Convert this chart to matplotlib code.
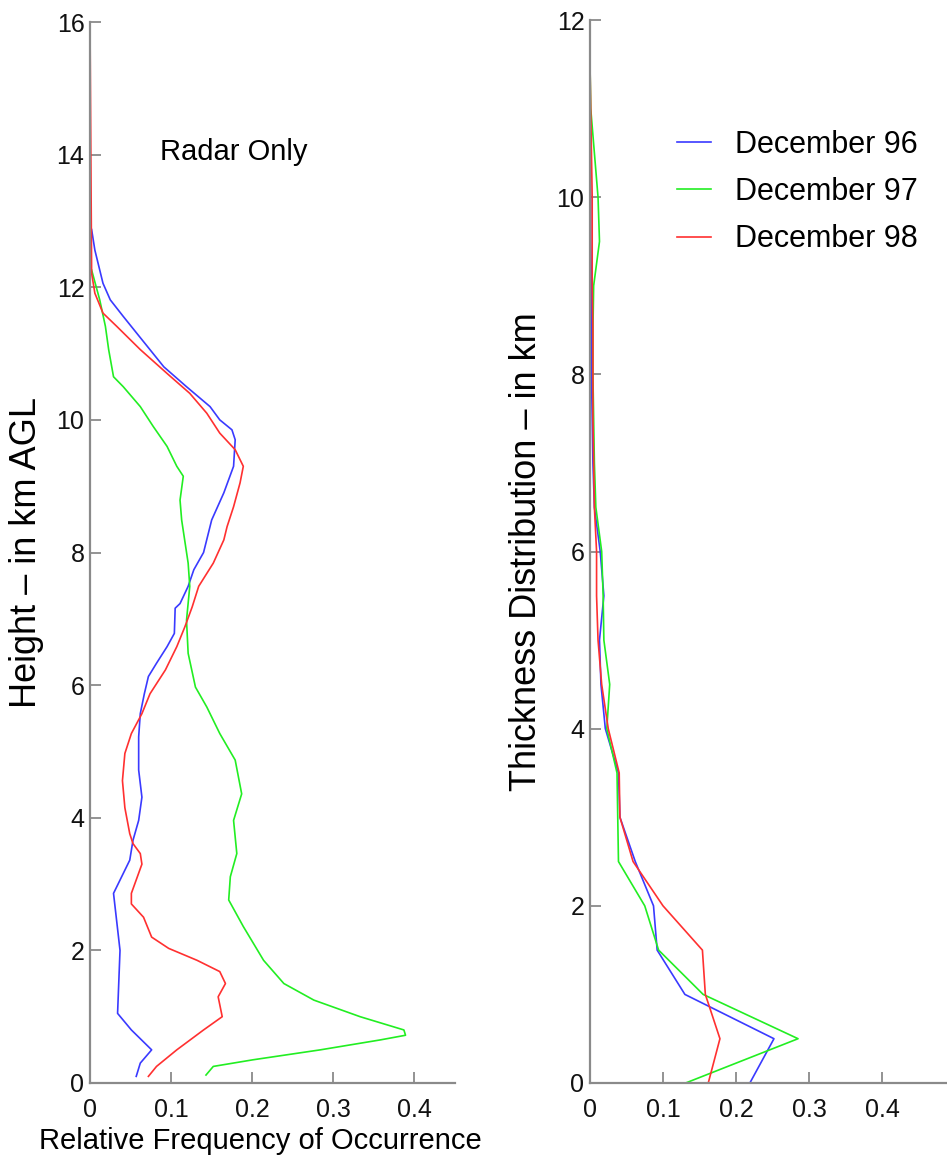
import matplotlib
matplotlib.use('Agg')
import matplotlib.pyplot as plt
from matplotlib.ticker import FuncFormatter

plt.rcParams['font.family'] = ['Liberation Sans', 'DejaVu Sans']

# ── DATA ──────────────────────────────────────────────────────────────────────
LABELS = ['December 96', 'December 97', 'December 98']
COLORS = ['#3a3aff', '#22ee22', '#ff3030']

# Left panel: radar-only height profile (km AGL vs relative frequency)
h96 = [12.87, 12.56, 12.06, 11.81, 11.56, 11.21, 10.8, 10.5, 10.2, 10.0, 9.85, 9.7,
       9.3, 8.9, 8.49, 8.0, 7.74, 7.49, 7.23, 7.16, 6.78, 6.58, 6.33, 6.13, 5.87,
       5.57, 5.22, 4.72, 4.31, 3.96, 3.66, 3.36, 2.86, 2.0, 1.05, 0.8, 0.5, 0.3, 0.1]
f96 = [0.002, 0.006, 0.016, 0.025, 0.041, 0.064, 0.091, 0.119, 0.148, 0.160, 0.175, 0.179,
       0.177, 0.165, 0.150, 0.140, 0.128, 0.121, 0.111, 0.105, 0.104, 0.095, 0.082, 0.072, 0.067,
       0.062, 0.060, 0.060, 0.064, 0.060, 0.053, 0.049, 0.029, 0.037, 0.034, 0.051, 0.076, 0.062, 0.057]

h97 = [12.26, 11.81, 11.41, 11.06, 10.65, 10.5, 10.2, 9.9, 9.6, 9.3, 9.15, 8.79, 8.49,
       7.84, 7.49, 6.98, 6.48, 5.97, 5.67, 5.27, 4.87, 4.36, 3.96, 3.46, 3.11, 2.76,
       2.36, 1.85, 1.5, 1.25, 1.0, 0.8, 0.72, 0.65, 0.5, 0.35, 0.25, 0.12]
f97 = [0.002, 0.012, 0.019, 0.023, 0.029, 0.041, 0.062, 0.078, 0.095, 0.107, 0.115, 0.111, 0.113,
       0.121, 0.123, 0.119, 0.121, 0.130, 0.144, 0.160, 0.179, 0.187, 0.177, 0.181, 0.173, 0.171,
       0.189, 0.214, 0.239, 0.276, 0.333, 0.387, 0.389, 0.358, 0.284, 0.201, 0.152, 0.143]

h98 = [16.0, 12.21, 11.91, 11.61, 11.41, 11.06, 10.7, 10.4, 10.1, 9.8, 9.55, 9.3, 9.05,
       8.69, 8.39, 8.19, 7.84, 7.49, 7.18, 6.88, 6.58, 6.23, 5.87, 5.57, 5.27, 4.97,
       4.56, 4.15, 3.76, 3.61, 3.46, 3.3, 2.86, 2.7, 2.5, 2.2, 2.03, 1.85, 1.68, 1.5,
       1.3, 1.0, 0.8, 0.5, 0.25, 0.1]
f98 = [0.0, 0.002, 0.006, 0.016, 0.033, 0.062, 0.095, 0.123, 0.144, 0.160, 0.179, 0.189, 0.185,
       0.177, 0.169, 0.165, 0.152, 0.134, 0.126, 0.117, 0.107, 0.093, 0.074, 0.064, 0.051, 0.043,
       0.040, 0.043, 0.049, 0.053, 0.062, 0.064, 0.051, 0.051, 0.066, 0.076, 0.097, 0.132, 0.160, 0.167,
       0.158, 0.163, 0.140, 0.107, 0.082, 0.072]

# Right panel: thickness distribution, 0.5 km bins
thick = [0.0, 0.5, 1.0, 1.5, 2.0, 2.5, 3.0, 3.5, 4.0, 4.5, 5.0, 5.5, 6.0, 6.5,
         7.0, 7.5, 8.0, 8.5, 9.0, 9.5, 10.0, 10.5, 11.0, 11.5, 12.0]
t96 = [0.219, 0.252, 0.130, 0.092, 0.087, 0.062, 0.041, 0.039, 0.021, 0.015, 0.013, 0.019,
       0.014, 0.006, 0.004, 0.003, 0.002, 0.002, 0.002, 0.001, 0.001, 0.0]
t97 = [0.131, 0.285, 0.155, 0.094, 0.075, 0.039, 0.038, 0.037, 0.023, 0.027, 0.019, 0.018,
       0.016, 0.008, 0.006, 0.005, 0.004, 0.004, 0.005, 0.013, 0.011, 0.006, 0.001, 0.0]
t98 = [0.162, 0.178, 0.158, 0.154, 0.100, 0.059, 0.041, 0.040, 0.025, 0.016, 0.011, 0.009,
       0.009, 0.006, 0.005, 0.004, 0.004, 0.004, 0.003, 0.003, 0.003, 0.002, 0.001, 0.0, 0.0]

XTICKS = [0, 0.1, 0.2, 0.3, 0.4]
GRAY = '#8a8a8a'


def style_axes(ax):
    for side in ['top', 'right']:
        ax.spines[side].set_visible(False)
    for side in ['left', 'bottom']:
        ax.spines[side].set_color(GRAY)
        ax.spines[side].set_linewidth(1.6)
    ax.tick_params(direction='in', length=8, width=1.3, color=GRAY,
                   labelsize=18, labelcolor='#111111')
    ax.tick_params(axis='x', pad=11)
    ax.tick_params(axis='y', pad=4)
    ax.set_xticks(XTICKS)
    ax.xaxis.set_major_formatter(FuncFormatter(lambda v, p: '0' if v == 0 else f'{v:.1f}'))


fig = plt.figure(figsize=(9.47, 11.62), dpi=100)

# ── LEFT PANEL ────────────────────────────────────────────────────────────────
ax1 = fig.add_axes([90 / 947, 1 - 1083 / 1162, 365 / 947, 1061 / 1162])
ax1.plot(f96, h96, color=COLORS[0], lw=1.2)
ax1.plot(f97, h97, color=COLORS[1], lw=1.2)
ax1.plot(f98, h98, color=COLORS[2], lw=1.2)
ax1.set_xlim(0, 0.45)
ax1.set_ylim(0, 16)
ax1.set_yticks(range(0, 17, 2))
style_axes(ax1)
ax1.set_ylabel('Height \u2013 in km AGL', fontsize=26)
ax1.yaxis.set_label_coords(-0.125, 0.5)
ax1.set_xlabel('Relative Frequency of Occurrence', fontsize=21)
ax1.xaxis.set_label_coords(0.468, -0.041)
ax1.text(0.086, 14.04, 'Radar Only', fontsize=21, va='center', ha='left')

# ── RIGHT PANEL ───────────────────────────────────────────────────────────────
ax2 = fig.add_axes([590 / 947, 1 - 1083 / 1162, 365 / 947, 1063 / 1162])
ax2.plot(t96, thick[:len(t96)], color=COLORS[0], lw=1.2, label=LABELS[0])
ax2.plot(t97, thick[:len(t97)], color=COLORS[1], lw=1.2, label=LABELS[1])
ax2.plot(t98, thick[:len(t98)], color=COLORS[2], lw=1.2, label=LABELS[2])
ax2.set_xlim(0, 0.5)
ax2.set_ylim(0, 12)
ax2.set_yticks(range(0, 13, 2))
style_axes(ax2)
ax2.set_ylabel('Thickness Distribution \u2013 in km', fontsize=26)
ax2.yaxis.set_label_coords(-0.125, 0.5)
ax2.legend(frameon=False, loc='upper left', bbox_to_anchor=(677 / 947, 1 - 130 / 1162),
           bbox_transform=fig.transFigure, fontsize=22, handlelength=1.1,
           handletextpad=0.8, labelspacing=0.56, borderpad=0, borderaxespad=0)

plt.savefig('out.png', dpi=100)
